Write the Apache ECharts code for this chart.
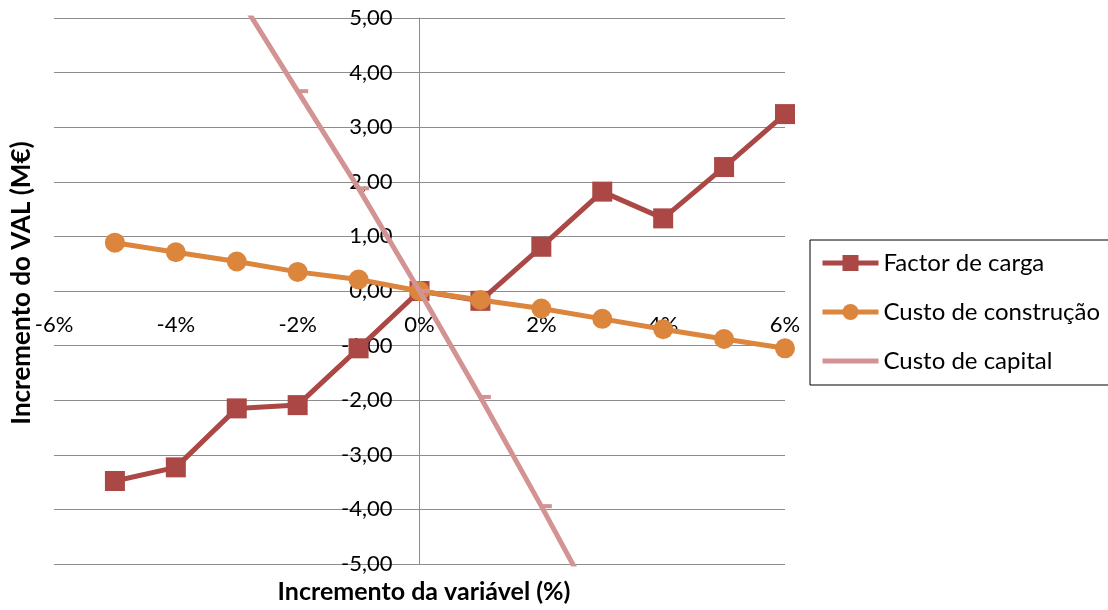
<!DOCTYPE html>
<html>
<head>
<meta charset="utf-8">
<script src="https://cdn.jsdelivr.net/npm/echarts@6/dist/echarts.min.js"></script>
<style>
html,body{margin:0;padding:0;background:#fff;}
#c{width:1108px;height:610px;}
</style>
</head>
<body>
<div id="c"></div>
<script>
// Data
const xValues = [-5, -4, -3, -2, -1, 0, 1, 2, 3, 4, 5, 6];
const factorCarga = [-3.48, -3.23, -2.15, -2.09, -1.05, 0, -0.18, 0.81, 1.82, 1.33, 2.27, 3.24];
const custoConstrucao = [0.885, 0.71, 0.54, 0.35, 0.21, 0, -0.165, -0.32, -0.51, -0.70, -0.88, -1.05];
const custoCapital = [9.0, 7.2, 5.45, 3.66, 1.88, 0, -1.94, -3.94, -6.0, -8.0, -10.0, -12.0];
const seriesNames = ['Factor de carga', 'Custo de construção', 'Custo de capital'];
const xTicks = [-6, -4, -2, 0, 2, 4, 6];
const yTicks = [-5, -4, -3, -2, -1, 0, 1, 2, 3, 4, 5];
const xTitle = 'Incremento da variável (%)';
const yTitle = 'Incremento do VAL (M€)';

const pair = arr => xValues.map((x, i) => [x, arr[i]]);
const FONT = 'Lato';
const C_RED = '#AB4744', C_ORANGE = '#DC853D', C_PINK = '#D49393';

const GRID = {left: 54, right: 323, top: 18, bottom: 46};
const W = 1108, H = 610;
const gridW = W - GRID.left - GRID.right;
const gridH = H - GRID.top - GRID.bottom;
const xMin = xTicks[0], xMax = xTicks[xTicks.length - 1];
const yMin = yTicks[0], yMax = yTicks[yTicks.length - 1];
// offsets that place each axis where the other axis crosses zero
const yAxisOffset = -gridW * (0 - xMin) / (xMax - xMin);
const xAxisOffset = -gridH * (0 - yMin) / (yMax - yMin);

const chart = echarts.init(document.getElementById('c'), null, {renderer: 'canvas'});
chart.setOption({
  animation: false,
  backgroundColor: '#fff',
  grid: Object.assign({containLabel: false, outerBoundsMode: 'none'}, GRID),
  xAxis: {
    type: 'value', min: xMin, max: xMax, interval: 2,
    position: 'bottom', offset: xAxisOffset,
    axisLine: {show: false, onZero: false},
    axisTick: {show: false},
    splitLine: {show: false},
    axisLabel: {
      formatter: v => v + '%', margin: 23,
      fontFamily: FONT, fontSize: 22, color: '#000'
    }
  },
  yAxis: {
    type: 'value', min: yMin, max: yMax, interval: 1,
    position: 'left', offset: yAxisOffset,
    axisLine: {show: true, onZero: false, lineStyle: {color: '#8c8c8c', width: 1}},
    axisTick: {show: false},
    splitLine: {show: true, lineStyle: {color: '#8c8c8c', width: 1}},
    axisLabel: {
      formatter: v => v.toFixed(2).replace('.', ','), margin: 27,
      fontFamily: FONT, fontSize: 22, color: '#000'
    }
  },
  legend: {
    orient: 'vertical', left: 810, top: 240,
    borderColor: '#000', borderWidth: 1,
    padding: [10, 40, 11, 10],
    itemWidth: 56, itemHeight: 20, itemGap: 23,
    lineStyle: {width: 5},
    textStyle: {fontFamily: FONT, fontSize: 24, color: '#000', lineHeight: 26},
    data: [
      {name: seriesNames[0]},
      {name: seriesNames[1]},
      {name: seriesNames[2], icon: 'path://M0,0H56V5H0Z', itemStyle: {color: C_PINK}}
    ]
  },
  graphic: [
    {type: 'text', x: 22, y: 283, rotation: Math.PI / 2,
     style: {text: yTitle, fontFamily: FONT, fontWeight: 'bold', fontSize: 26, fill: '#000', align: 'center', verticalAlign: 'middle'}},
    {type: 'text', x: 424, y: 592,
     style: {text: xTitle, fontFamily: FONT, fontWeight: 'bold', fontSize: 25, fill: '#000', align: 'center', verticalAlign: 'middle'}}
  ],
  series: [
    {
      name: seriesNames[0], type: 'line', data: pair(factorCarga), clip: true,
      symbol: 'rect', symbolSize: 20,
      lineStyle: {color: C_RED, width: 5},
      itemStyle: {color: C_RED},
      z: 2
    },
    {
      name: seriesNames[1], type: 'line', data: pair(custoConstrucao), clip: true,
      symbol: 'circle', symbolSize: 20,
      lineStyle: {color: C_ORANGE, width: 5},
      itemStyle: {color: C_ORANGE},
      z: 3
    },
    {
      name: seriesNames[2], type: 'line', data: pair(custoCapital), clip: true,
      symbol: 'rect', symbolSize: [11, 4], symbolOffset: [5, 0],
      lineStyle: {color: C_PINK, width: 5},
      itemStyle: {color: C_PINK},
      z: 4
    }
  ]
});
</script>
</body>
</html>
